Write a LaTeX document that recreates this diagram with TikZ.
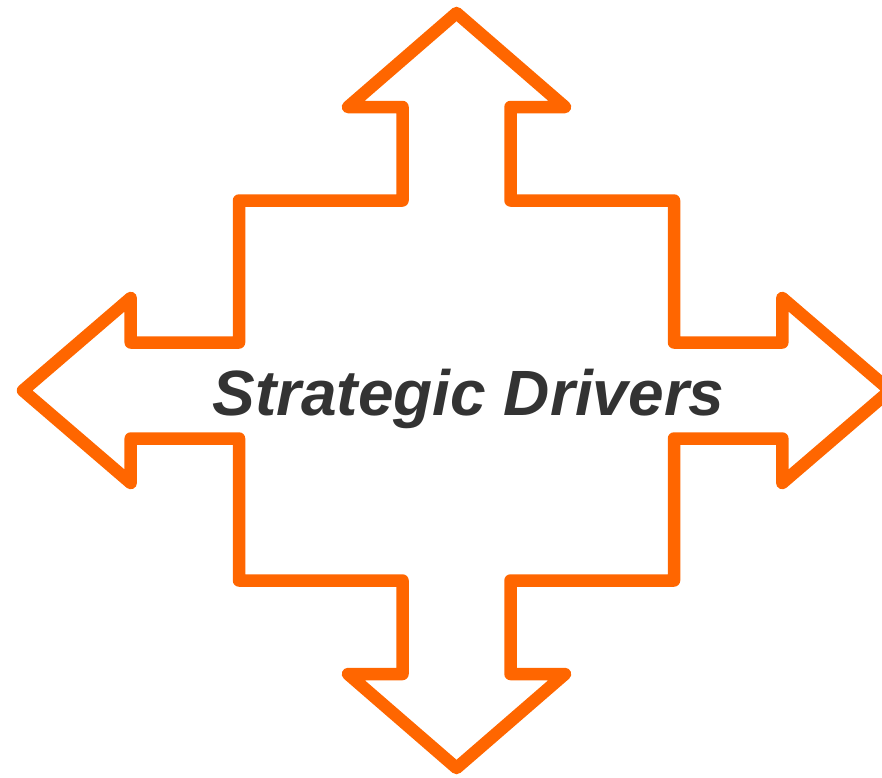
\documentclass[tikz,border=0pt]{standalone}
\usepackage{fontspec}
\setmainfont{Liberation Sans}
\usepackage{tikz}
\usetikzlibrary{positioning}

\definecolor{arroworange}{HTML}{FF6600}
\definecolor{labelgray}{HTML}{333333}

\begin{document}
\begin{tikzpicture}[x = 1pt, y = -1pt,
    outline/.style = { draw = arroworange, line width = 12.5pt, line join = round },
    every node/.style = { text = labelgray, font = \fontsize{64}{70}\selectfont\bfseries\itshape }]
      \useasboundingbox (0,0) rectangle (882,777);
      \coordinate (mid) at (456.5,390.5);
      \draw [outline, shift = {(mid)}]
        (0,-377.5) -- (108.5,-283.5) -- (54,-283.5) -- (54,-190)
        -- (217.5,-190) -- (217.5,-48) -- (325.8,-48) -- (325.8,-92.5)
        -- (433.5,0) -- (325.8,92.5) -- (325.8,48) -- (217.5,48)
        -- (217.5,190) -- (54,190) -- (54,283.5) -- (108.5,283.5)
        -- (0,377.5) -- (-108.5,283.5) -- (-54,283.5) -- (-54,190)
        -- (-217.5,190) -- (-217.5,48) -- (-325.8,48) -- (-325.8,92.5)
        -- (-433.5,0) -- (-325.8,-92.5) -- (-325.8,-48) -- (-217.5,-48)
        -- (-217.5,-190) -- (-54,-190) -- (-54,-283.5) -- (-108.5,-283.5)
        -- cycle;
      \node (label) [anchor = base] at (468.5,415.5) { Strategic Drivers };
\end{tikzpicture}
\end{document}
